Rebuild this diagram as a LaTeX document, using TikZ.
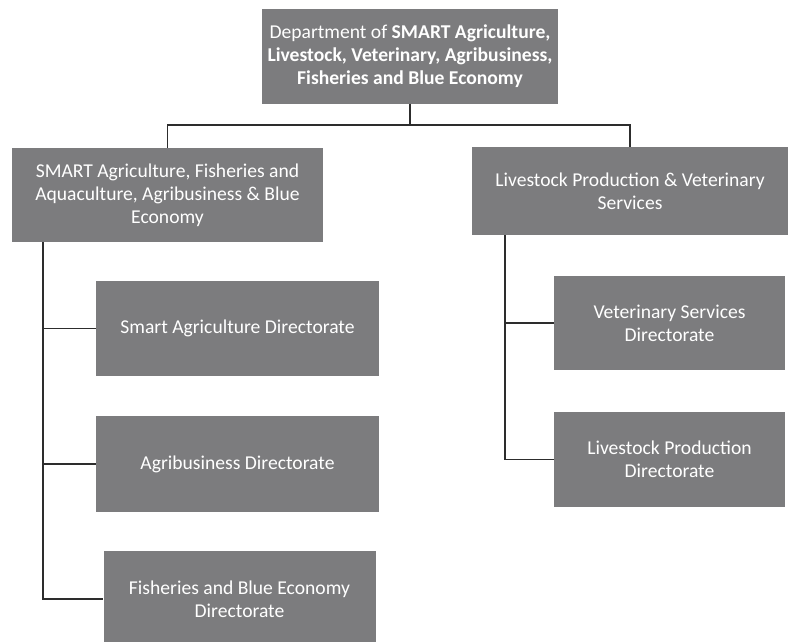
\documentclass[tikz,border=0pt]{standalone}
\usepackage{fontspec}
\setmainfont{Carlito}
\definecolor{boxgray}{RGB}{124,124,126}
\definecolor{linegray}{RGB}{45,45,45}
\begin{document}
\begin{tikzpicture}[x=1pt,y=-1pt,
  orgbox/.style={fill=boxgray, text=white, align=center, inner sep=0pt, font=\fontsize{19.6}{23}\selectfont},
  conn/.style={draw=linegray, line width=1.4pt}]
\useasboundingbox (0,0) rectangle (788,641);
\clip (0,0) rectangle (788,641);
\fill[white] (0,0) rectangle (788,641);
% boxes
\node[orgbox, minimum width=296pt, minimum height=95pt] (top) at (410,56)
  {Department of \textbf{SMART Agriculture,}\\\textbf{Livestock, Veterinary, Agribusiness,}\\\textbf{Fisheries and Blue Economy}};
\node[orgbox, minimum width=311pt, minimum height=94pt] (left) at (167.5,195)
  {SMART Agriculture, Fisheries and\\Aquaculture, Agribusiness \& Blue\\Economy};
\node[orgbox, minimum width=316pt, minimum height=88pt] (right) at (630,191)
  {Livestock Production \& Veterinary\\Services};
\node[orgbox, minimum width=283pt, minimum height=95pt] (sa) at (237.5,328.5)
  {Smart Agriculture Directorate};
\node[orgbox, minimum width=283pt, minimum height=96pt] (ab) at (237.5,464)
  {Agribusiness Directorate};
\node[orgbox, minimum width=272pt, minimum height=96pt] (fb) at (239.5,599)
  {Fisheries and Blue Economy\\Directorate};
\node[orgbox, minimum width=231pt, minimum height=94pt] (vs) at (669.5,323)
  {Veterinary Services\\Directorate};
\node[orgbox, minimum width=231pt, minimum height=95pt] (lp) at (669.5,459.5)
  {Livestock Production\\Directorate};
% connectors
\coordinate (hb) at (410,125);
\coordinate (lv) at (43,242);
\coordinate (rv) at (505,235);
\draw[conn] (top.south) -- (hb);
\draw[conn] (left.north) -- (left.north |- hb) -- (right.north |- hb) -- (right.north);
\draw[conn] (lv) |- (fb.west);
\draw[conn] (lv |- sa.west) -- (sa.west);
\draw[conn] (lv |- ab.west) -- (ab.west);
\draw[conn] (rv) |- (lp.west);
\draw[conn] (rv |- vs.west) -- (vs.west);
\end{tikzpicture}
\end{document}
